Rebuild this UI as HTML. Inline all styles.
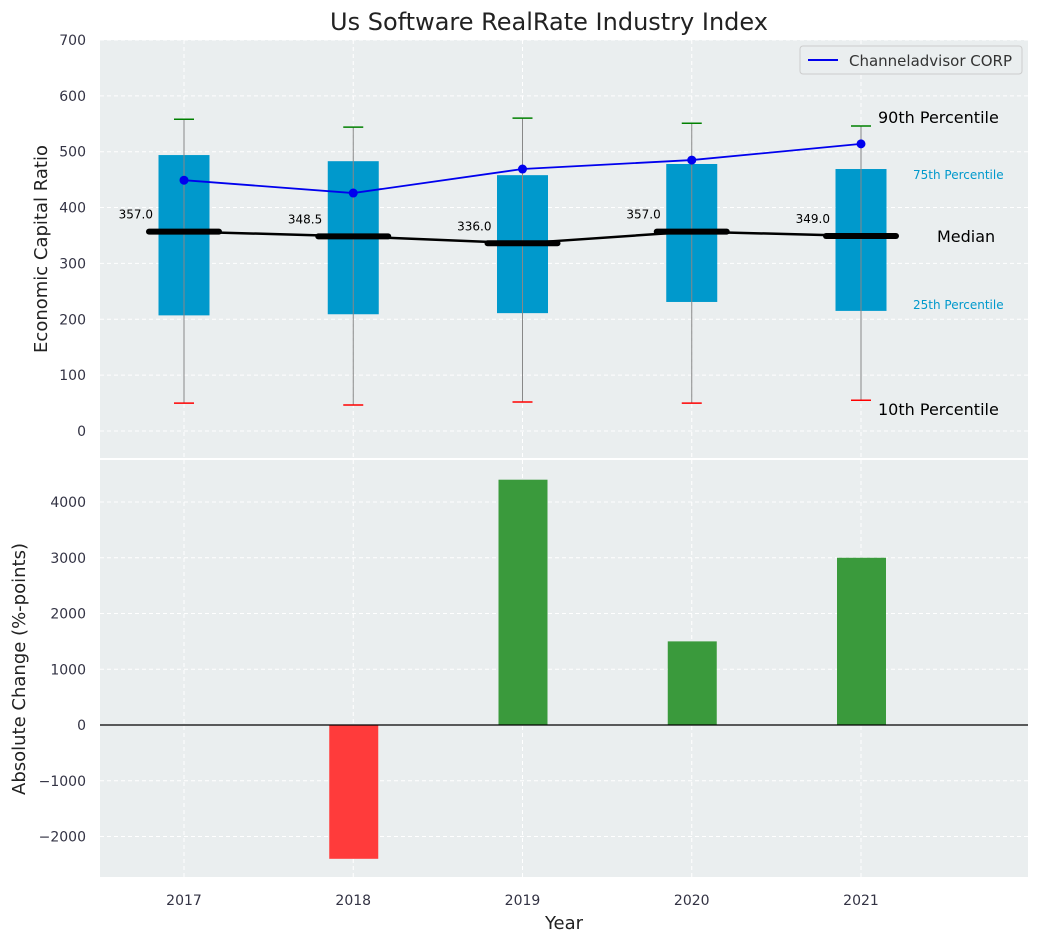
<!DOCTYPE html>
<html><head><meta charset="utf-8"><style>
body{margin:0;background:#fff;font-family:"Liberation Sans","DejaVu Sans",sans-serif}
</style></head><body>
<svg id="chart" width="1039" height="942" xmlns="http://www.w3.org/2000/svg" font-family="DejaVu Sans, Liberation Sans, sans-serif">
<text x="549" y="30" font-size="24" text-anchor="middle" fill="#222">Us Software RealRate Industry Index</text>
<rect x="100" y="40" width="928" height="418" fill="#eaeeef"/>
<rect x="100" y="460" width="928" height="417" fill="#eaeeef"/>
<g id="gtop"></g><g id="gbot"></g>
<text transform="translate(47,249) rotate(-90)" font-size="18" text-anchor="middle" fill="#222">Economic Capital Ratio</text>
<text transform="translate(25,669) rotate(-90)" font-size="18" text-anchor="middle" fill="#222">Absolute Change (%-points)</text>
<text x="564" y="929" font-size="18" text-anchor="middle" fill="#222">Year</text>
<g>
<rect x="800" y="46" width="222" height="28" rx="3" fill="#eaeeef" stroke="#ccc"/>
<line x1="808" y1="60" x2="838" y2="60" stroke="#0000ee" stroke-width="2"/>
<text x="849" y="66" font-size="15" fill="#333">Channeladvisor CORP</text>
</g>
<text x="878" y="123" font-size="16" fill="#000">90th Percentile</text>
<text x="913" y="179" font-size="12" fill="#0099cc">75th Percentile</text>
<text x="937" y="242" font-size="16" fill="#000">Median</text>
<text x="913" y="309" font-size="12" fill="#0099cc">25th Percentile</text>
<text x="878" y="415" font-size="16" fill="#000">10th Percentile</text>
</svg>
<script>
const years=[2017,2018,2019,2020,2021];
const p10=[50,46.5,52,50,55];
const p25=[207,209,211,231,215];
const median=[357,348.5,336,357,349];
const p75=[494,483,458,478,469];
const p90=[558,544,560,551,546];
const company=[449,426,469,485,514];
const changes=[0,-2400,4400,1500,3000];
const topTicks=[0,100,200,300,400,500,600,700];
const botTicks=[-2000,-1000,0,1000,2000,3000,4000];
const NS="http://www.w3.org/2000/svg";
const X=v=>184+(v-2017)*169.25;
const YT=v=>431-v*0.5586;
const YB=v=>725-v*0.05575;
function mk(p,t,a){const e=document.createElementNS(NS,t);for(const k in a)e.setAttribute(k,a[k]);p.appendChild(e);return e;}
const gTop=document.getElementById('gtop'),gBot=document.getElementById('gbot');
years.forEach(y=>{[[gTop,40,458],[gBot,460,877]].forEach(([g,a,b])=>{const l=mk(g,'line',{x1:X(y),x2:X(y),y1:a,y2:b,stroke:'#fff','stroke-dasharray':'4,3'});

});
const t=mk(gBot,'text',{x:X(y),y:905,'font-size':14,'text-anchor':'middle',fill:'#334'});t.textContent=y;

});
topTicks.forEach(v=>{const l=mk(gTop,'line',{x1:100,x2:1028,y1:YT(v),y2:YT(v),stroke:'#fff','stroke-dasharray':'4,3'});


const t=mk(gTop,'text',{x:86,y:YT(v)+5,'font-size':14,'text-anchor':'end',fill:'#334'});t.textContent=v;

});
botTicks.forEach(v=>{const l=mk(gBot,'line',{x1:100,x2:1028,y1:YB(v),y2:YB(v),stroke:'#fff','stroke-dasharray':'4,3'});


const t=mk(gBot,'text',{x:86,y:YB(v)+5,'font-size':14,'text-anchor':'end',fill:'#334'});t.textContent=(v<0?'\u2212'+(-v):v);

});
const bw=51;
years.forEach((y,i)=>{const x=X(y);
const b=mk(gTop,'rect',{x:x-bw/2,y:YT(p75[i]),width:bw,height:YT(p25[i])-YT(p75[i]),fill:'#0099cc'});


const w=mk(gTop,'line',{x1:x,x2:x,y1:YT(p90[i]),y2:YT(p10[i]),stroke:'#888','stroke-width':1});


const c1=mk(gTop,'line',{x1:x-10,x2:x+10,y1:YT(p90[i]),y2:YT(p90[i]),stroke:'green','stroke-width':1.5});


const c2=mk(gTop,'line',{x1:x-10,x2:x+10,y1:YT(p10[i]),y2:YT(p10[i]),stroke:'red','stroke-width':1.5});


const m=mk(gTop,'line',{x1:x-35,x2:x+35,y1:YT(median[i]),y2:YT(median[i]),stroke:'#000','stroke-width':6,'stroke-linecap':'round'});


const t=mk(gTop,'text',{x:x-31,y:YT(median[i])-13,'font-size':12,'text-anchor':'end',fill:'#000'});t.textContent=median[i].toFixed(1);


const v=changes[i];if(v!==0){const r=mk(gBot,'rect',{x:x-24,y:Math.min(YB(v),YB(0)),width:49,height:Math.abs(YB(v)-YB(0)),fill:v>0?'#3a9a3c':'#ff3b3b'});

}});
const ml=mk(gTop,'polyline',{points:years.map((y,i)=>X(y)+','+YT(median[i])).join(' '),fill:'none',stroke:'#000','stroke-width':2.5});


const cl=mk(gTop,'polyline',{points:years.map((y,i)=>X(y)+','+YT(company[i])).join(' '),fill:'none',stroke:'#0000ee','stroke-width':1.8});


years.forEach((y,i)=>{const c=mk(gTop,'circle',{cx:X(y),cy:YT(company[i]),r:4.5,fill:'#0000ee'});

});
const z=mk(gBot,'line',{x1:100,x2:1028,y1:YB(0),y2:YB(0),stroke:'#000','stroke-width':1.2});


</script>
</body></html>
